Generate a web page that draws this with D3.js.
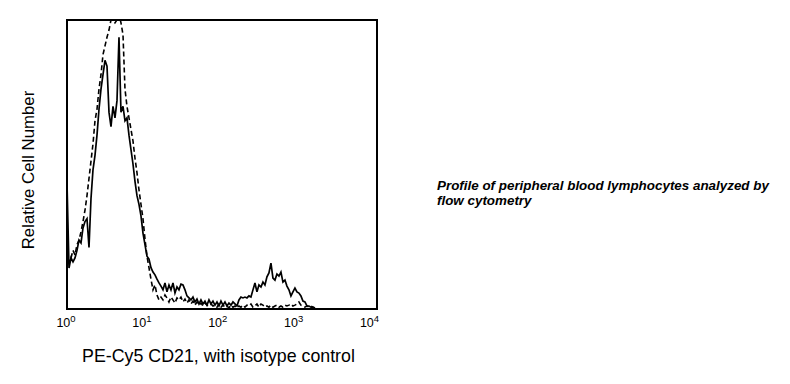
<!DOCTYPE html>
<html><head><meta charset="utf-8">
<script src="https://cdn.jsdelivr.net/npm/d3@7"></script>
<style>
body{margin:0;background:#fff}
svg{display:block}
text{font-family:"Liberation Sans", Arial, sans-serif;fill:#000}
</style>
</head><body><svg id="c" width="790" height="384"></svg>
<script>
// log10 fluorescence of first channel and channel spacing (decades)
const logStart = 0;
const logStep = 0.0258;
// PE-Cy5 CD21 histogram (relative count, 100 = top of frame)
const cd21 = [43.4,13.9,17.4,16,17.4,20,23.6,22.6,27.8,30,31,21,38,48,53,60,69,76,81,86,
  84,68,63,70,66,72,94,68,70,65,66,60,55,50,44,39,36,32,26,22,
  18,17,14,12.5,11.5,10,8.7,7.6,6.3,8.7,5.6,8,6.3,8.7,5.2,7.3,6.3,8.3,8,6.3,
  4.2,3.5,2.8,3.8,2.1,3.1,1.4,2.8,1.4,2.4,1,2.8,1.4,2.4,1,2.1,0.7,2.4,1,2.1,
  0.7,1.7,1,2.1,1.4,0.7,2.8,3.8,3.5,3.8,3.5,4.2,3.8,6.3,8.7,5.6,8,7.3,9,8,
  10.8,12.2,15.6,10.4,9.7,11.8,11.1,12.5,9,9.7,7.6,6.3,4.2,5.6,6.9,5.6,5.2,4.2,2.4,2.1,
  0.7,0.7,0.3,0.3,0];
// isotype control histogram
const isotype = [14.9,16,17.4,20,18.4,22,23.6,26.4,30,34,39,45,51,57,65,69,76,81,88,91,
  94,96.5,100,100,99,100,102,99,95,76,70,66,62,58,52,47,41,36,31,24,
  18,14,10,6.3,8,4.5,2.8,3.8,2.8,4.5,3.5,2.1,3.8,2.8,1.7,3.5,2.8,3.8,2.1,3.1,
  1.7,2.8,1.4,2.4,1,2.1,1,1.7,0.7,1.7,1,0.7,1.4,0.7,1,0.3,1.4,0.3,1,0.3,
  0.7,0,1,0.3,0.7,0,0.7,0.3,1,0.3,1,0.7,1.4,0.3,0.7,1.4,0.3,1.4,1,0.3,
  0.7,0.3,1,0.3,0.7,1,0.3,0.7,0.3,1,0.7,1,1.4,0.7,1,1.4,2.1,1,0.7,0.3,
  0.7,0.3,0.7,0.3,0];
const tickValues = [1, 10, 100, 1000, 10000];
const tickExponents = ["0", "1", "2", "3", "4"];
const xTitle = "PE-Cy5 CD21, with isotype control";
const yTitle = "Relative Cell Number";
const note = ["Profile of peripheral blood lymphocytes analyzed by", "flow cytometry"];

const svg = d3.select("#c");
const x = d3.scaleLog().domain([1, 1e4]).range([67, 377]);
const xLab = d3.scaleLog().domain([1, 1e4]).range([65.5, 369]);
const y = d3.scaleLinear().domain([0, 100]).range([308, 20]);

svg.append("clipPath").attr("id", "clip").append("rect")
  .attr("x", 67).attr("y", 20).attr("width", 310).attr("height", 289);

const line = d3.line()
  .x((d, i) => x(Math.pow(10, logStart + i * logStep)))
  .y(d => y(d));

const g = svg.append("g").attr("clip-path", "url(#clip)");
g.append("path").datum(isotype).attr("d", line)
  .attr("fill", "none").attr("stroke", "#000").attr("stroke-width", 1.6)
  .attr("stroke-dasharray", "5,3");
g.append("path").datum(cd21).attr("d", line)
  .attr("fill", "none").attr("stroke", "#000").attr("stroke-width", 1.7);

// frame
svg.append("rect").attr("x", 67).attr("y", 20).attr("width", 310).attr("height", 289)
  .attr("fill", "none").attr("stroke", "#000").attr("stroke-width", 2);

// x axis labels
const ax = svg.append("g").attr("transform", "translate(0,315)")
  .call(d3.axisBottom(xLab).tickValues(tickValues).tickSize(0).tickFormat(() => ""));
ax.select(".domain").remove();
ax.selectAll(".tick text").each(function(d, i) {
  const t = d3.select(this).attr("y", 12).attr("dy", 0)
    .attr("font-size", 12.5).attr("fill", "#000")
    .style("font-family", '"Liberation Sans", Arial, sans-serif');
  t.text(null);
  t.append("tspan").text("10");
  t.append("tspan").attr("dy", -5).attr("font-size", 9.5).text(tickExponents[i]);
});

svg.append("text").attr("x", 218.5).attr("y", 362).attr("text-anchor", "middle")
  .attr("font-size", 17.8).text(xTitle);
svg.append("text").attr("transform", "translate(34,170) rotate(-90)")
  .attr("text-anchor", "middle").attr("font-size", 16.8).text(yTitle);

svg.append("text").attr("x", 437).attr("y", 190)
  .attr("font-size", 13.4).attr("font-weight", "bold").attr("font-style", "italic")
  .selectAll("tspan").data(note).join("tspan")
  .attr("x", 437).attr("dy", (d, i) => i === 0 ? 0 : 14.5).text(d => d);
</script>
</body></html>
